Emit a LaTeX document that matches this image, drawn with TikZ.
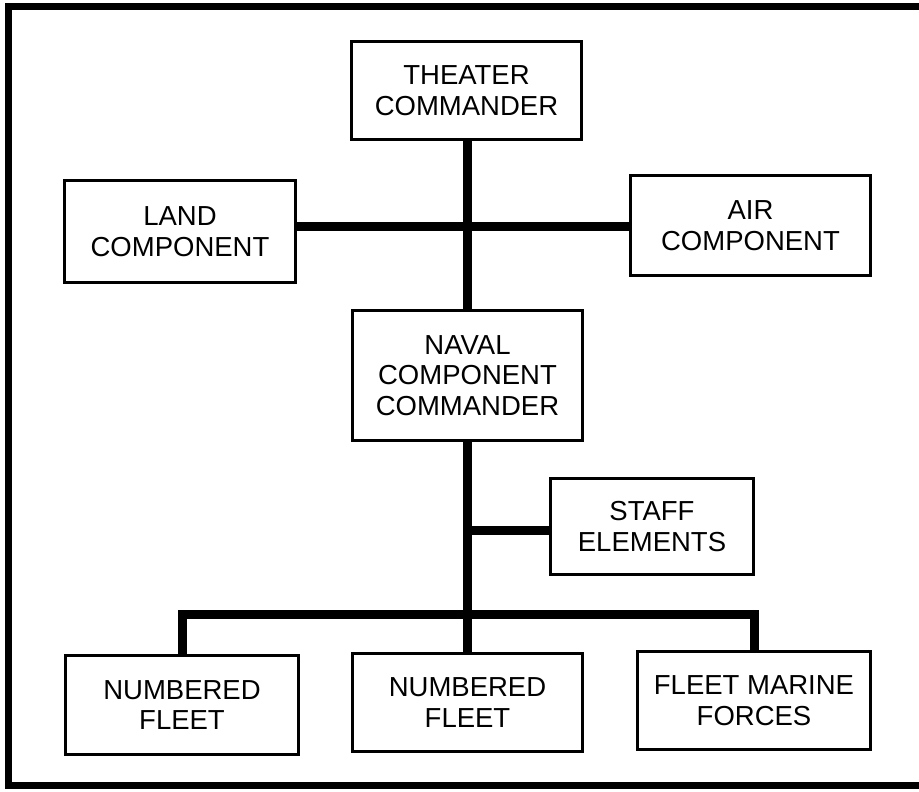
\documentclass[tikz,border=0pt]{standalone}
\usepackage{fontspec}
\setmainfont{Liberation Sans}
\begin{document}
\begin{tikzpicture}[x=1pt,y=-1pt,
  orgbox/.style={draw=black, line width=3pt, fill=white, align=center, inner sep=0pt,
    font=\fontsize{27.5}{30.5}\selectfont},
  link/.style={draw=black, line width=9pt}]
\useasboundingbox (0,0) rectangle (919,792);
\fill[white] (0,0) rectangle (919,792);
% frame (right side cut off in the reference)
\draw[line width=7pt] (925,7) -- (8,7) -- (8,785) -- (925,785);

\node[orgbox, minimum width=230pt, minimum height=98pt] (tc) at (466.5,90.5) {THEATER\\COMMANDER};
\node[orgbox, minimum width=231pt, minimum height=102pt] (lc) at (180,231.5) {LAND\\COMPONENT};
\node[orgbox, minimum width=240pt, minimum height=100pt] (ac) at (750.5,225.5) {AIR\\COMPONENT};
\node[orgbox, minimum width=230pt, minimum height=130pt] (nv) at (467.5,375.5) {NAVAL\\COMPONENT\\COMMANDER};
\node[orgbox, minimum width=203pt, minimum height=96pt] (st) at (652,526.5) {STAFF\\ELEMENTS};
\node[orgbox, minimum width=233pt, minimum height=99pt] (nf1) at (182,705) {NUMBERED\\FLEET};
\node[orgbox, minimum width=230pt, minimum height=98pt] (nf2) at (467.5,702.5) {NUMBERED\\FLEET};
\node[orgbox, minimum width=233pt, minimum height=98pt] (fm) at (754,700.5) {FLEET MARINE\\FORCES};

\coordinate (j1) at (467,226.5);
\coordinate (s1) at (467,530);
\coordinate (bus) at (467,614.5);

\draw[link] (tc.south -| j1) -- (nv.north -| j1);
\draw[link] (lc.east |- j1) -- (ac.west |- j1);
\draw[link] (nv.south -| bus) -- (nf2.north -| bus);
\draw[link] (s1) -- (st.west |- s1);
\draw[link] (nf1.north) -- (nf1.north |- bus) -- (fm.north |- bus) -- (fm.north);
\end{tikzpicture}
\end{document}
